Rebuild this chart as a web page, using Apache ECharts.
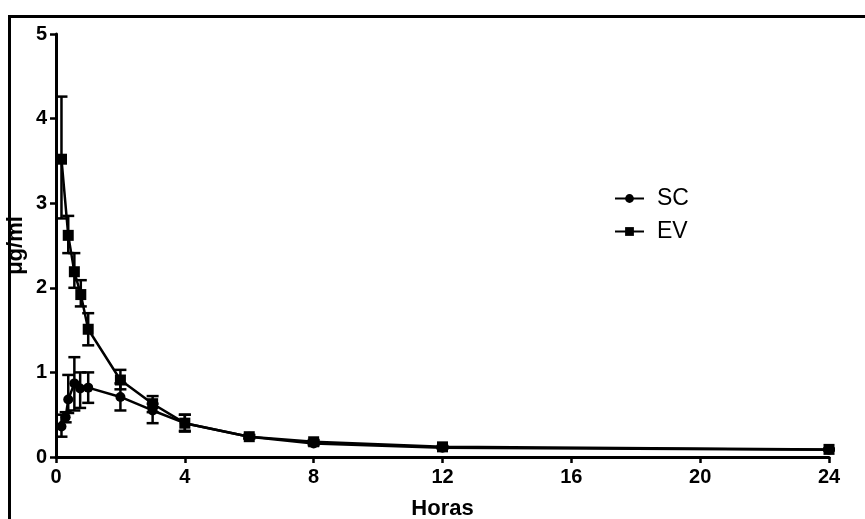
<!DOCTYPE html>
<html><head><meta charset="utf-8">
<script src="https://cdn.jsdelivr.net/npm/echarts@6/dist/echarts.min.js"></script>
<style>html,body{margin:0;padding:0;background:#fff}#c{width:865px;height:519px}</style>
</head><body><div id="c"></div>
<script>
var xTicks = [0, 4, 8, 12, 16, 20, 24];
var yTicks = [0, 1, 2, 3, 4, 5];

var scTime = [0.17, 0.3, 0.38, 0.57, 0.75, 1, 2, 3, 4, 6, 8, 12, 24];
var scMean = [0.36, 0.47, 0.68, 0.87, 0.81, 0.82, 0.71, 0.55, 0.40, 0.24, 0.16, 0.11, 0.085];
var scLow  = [0.24, 0.41, 0.52, 0.55, 0.58, 0.64, 0.55, 0.40, 0.30, 0.22, 0.14, 0.10, 0.08];
var scHigh = [0.50, 0.53, 0.97, 1.18, 1.00, 1.00, 0.87, 0.63, 0.50, 0.26, 0.18, 0.12, 0.09];

var evTime = [0.17, 0.38, 0.57, 0.77, 1, 2, 3, 4, 6, 8, 12, 24];
var evMean = [3.52, 2.62, 2.19, 1.92, 1.51, 0.91, 0.63, 0.40, 0.24, 0.18, 0.12, 0.09];
var evLow  = [2.82, 2.41, 2.00, 1.78, 1.32, 0.80, 0.53, 0.31, 0.22, 0.16, 0.11, 0.08];
var evHigh = [4.26, 2.85, 2.41, 2.09, 1.70, 1.03, 0.72, 0.50, 0.26, 0.20, 0.13, 0.10];

function zip(a, b) { return a.map(function (v, i) { return [v, b[i]]; }); }
function zip3(a, b, c) { return a.map(function (v, i) { return [v, b[i], c[i]]; }); }

function errItem(params, api) {
  var x = api.value(0);
  var lo = api.coord([x, api.value(1)]);
  var hi = api.coord([x, api.value(2)]);
  var hw = 6;
  var st = { stroke: '#000', lineWidth: 2.5 };
  return { type: 'group', children: [
    { type: 'line', shape: { x1: lo[0], y1: lo[1], x2: hi[0], y2: hi[1] }, style: st },
    { type: 'line', shape: { x1: lo[0] - hw, y1: lo[1], x2: lo[0] + hw, y2: lo[1] }, style: st },
    { type: 'line', shape: { x1: hi[0] - hw, y1: hi[1], x2: hi[0] + hw, y2: hi[1] }, style: st }
  ]};
}

var font = 'Liberation Sans, Arial, sans-serif';
var chart = echarts.init(document.getElementById('c'), null, { renderer: 'canvas' });
chart.setOption({
  animation: false,
  backgroundColor: '#fff',
  graphic: [{
    type: 'rect', left: 7, top: 14, shape: { width: 900, height: 600 },
    style: { fill: 'none', stroke: '#000', lineWidth: 3 }, z: -1
  }],
  grid: { left: 56, right: 36, top: 34, bottom: 62, containLabel: false, outerBoundsMode: 'none' },
  legend: {
    left: 609, top: 182, orient: 'vertical', itemGap: 10,
    itemWidth: 29, itemHeight: 11,
    textStyle: { fontFamily: font, fontSize: 23, color: '#000', padding: [0, 0, 0, 8] },
    data: ['SC', 'EV']
  },
  xAxis: {
    type: 'value', min: xTicks[0], max: xTicks[xTicks.length - 1], interval: 4,
    name: 'Horas', nameLocation: 'middle', nameGap: 41,
    nameTextStyle: { fontFamily: font, fontWeight: 'bold', fontSize: 22, color: '#000' },
    axisLine: { lineStyle: { color: '#000', width: 3 } },
    axisTick: { length: 6, lineStyle: { color: '#000', width: 2.5 } },
    axisLabel: { margin: 10, fontFamily: font, fontWeight: 'bold', fontSize: 20, color: '#000' },
    splitLine: { show: false }
  },
  yAxis: {
    type: 'value', min: yTicks[0], max: yTicks[yTicks.length - 1], interval: 1,
    name: 'μg/ml', nameLocation: 'middle', nameGap: 29, nameRotate: 90, nameMoveOverlap: false,
    nameTextStyle: { fontFamily: font, fontWeight: 'bold', fontSize: 22, color: '#000' },
    axisLine: { show: true, lineStyle: { color: '#000', width: 3 } },
    axisTick: { show: true, length: 6, lineStyle: { color: '#000', width: 2.5 } },
    axisLabel: { margin: 9, fontFamily: font, fontWeight: 'bold', fontSize: 20, color: '#000' },
    splitLine: { show: false }
  },
  series: [
    { type: 'custom', renderItem: errItem, data: zip3(scTime, scLow, scHigh), z: 3, silent: true },
    { type: 'custom', renderItem: errItem, data: zip3(evTime, evLow, evHigh), z: 3, silent: true },
    { name: 'SC', type: 'line', data: zip(scTime, scMean), symbol: 'circle', symbolSize: 10,
      lineStyle: { color: '#000', width: 2.5 }, itemStyle: { color: '#000' }, z: 4 },
    { name: 'EV', type: 'line', data: zip(evTime, evMean), symbol: 'rect', symbolSize: 11,
      lineStyle: { color: '#000', width: 2.5 }, itemStyle: { color: '#000' }, z: 4 }
  ]
});
</script></body></html>
